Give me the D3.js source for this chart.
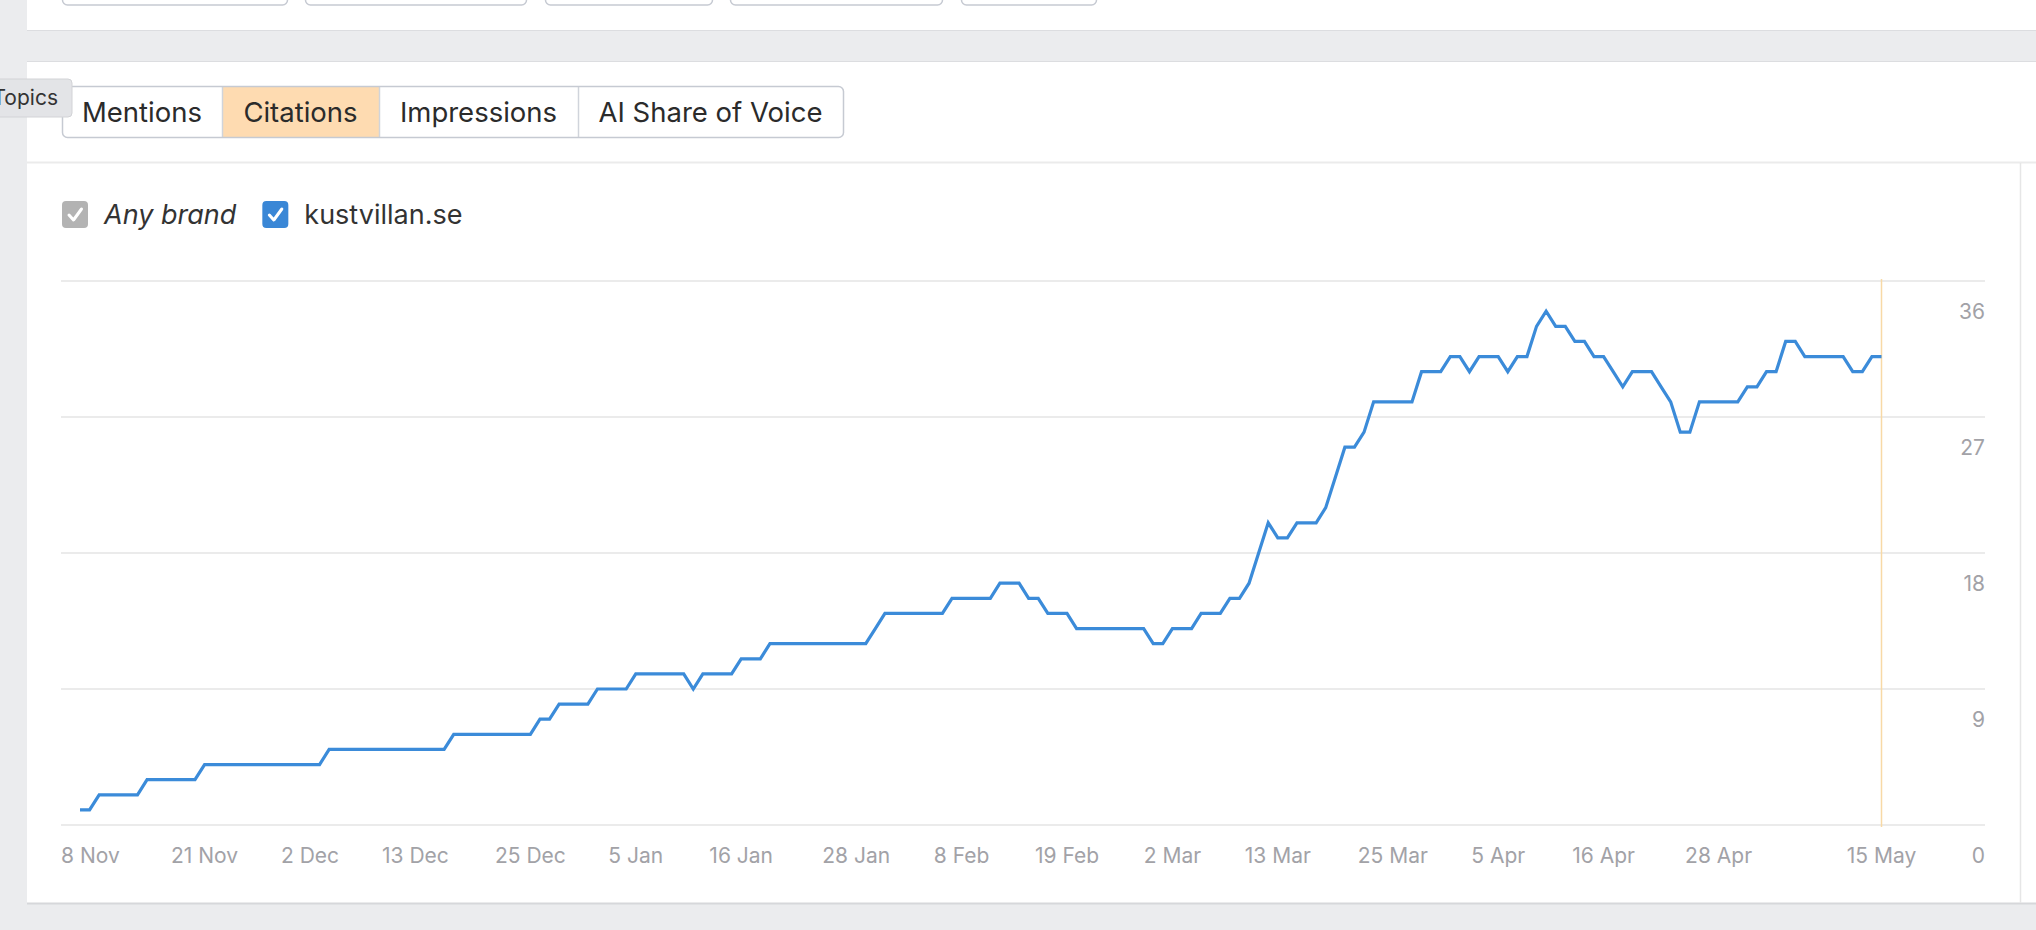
<!DOCTYPE html>
<html>
<head>
<meta charset="utf-8">
<script src="https://cdn.jsdelivr.net/npm/d3@7/dist/d3.min.js"></script>
<style>
  html, body { margin: 0; padding: 0; background: #ebecee; }
  svg { display: block; font-family: Inter, "Noto Sans", sans-serif; }
</style>
</head>
<body>
<div id="chart"></div>
<script>
// daily citations for kustvillan.se, one value per day from start_date
var start_date = '2024-11-08'
var citations = [
  1, 1, 2, 2, 2, 2, 2, 3, 3, 3,
  3, 3, 3, 4, 4, 4, 4, 4, 4, 4,
  4, 4, 4, 4, 4, 4, 5, 5, 5, 5,
  5, 5, 5, 5, 5, 5, 5, 5, 5, 6,
  6, 6, 6, 6, 6, 6, 6, 6, 7, 7,
  8, 8, 8, 8, 9, 9, 9, 9, 10, 10,
  10, 10, 10, 10, 9, 10, 10, 10, 10, 11,
  11, 11, 12, 12, 12, 12, 12, 12, 12, 12,
  12, 12, 12, 13, 14, 14, 14, 14, 14, 14,
  14, 15, 15, 15, 15, 15, 16, 16, 16, 15,
  15, 14, 14, 14, 13, 13, 13, 13, 13, 13,
  13, 13, 12, 12, 13, 13, 13, 14, 14, 14,
  15, 15, 16, 18, 20, 19, 19, 20, 20, 20,
  21, 23, 25, 25, 26, 28, 28, 28, 28, 28,
  30, 30, 30, 31, 31, 30, 31, 31, 31, 30,
  31, 31, 33, 34, 33, 33, 32, 32, 31, 31,
  30, 29, 30, 30, 30, 29, 28, 26, 26, 28,
  28, 28, 28, 28, 29, 29, 30, 30, 32, 32,
  31, 31, 31, 31, 31, 30, 30, 31, 31
]

var x_ticks = ['2024-11-08', '2024-11-21', '2024-12-02', '2024-12-13', '2024-12-25',
  '2025-01-05', '2025-01-16', '2025-01-28', '2025-02-08', '2025-02-19', '2025-03-02',
  '2025-03-13', '2025-03-25', '2025-04-05', '2025-04-16', '2025-04-28', '2025-05-15']
var y_ticks = [0, 9, 18, 27, 36]

var tabs = ['Mentions', 'Citations', 'Impressions', 'AI Share of Voice']
var tab_widths = [160, 157, 199, 265]
var active_tab = 'Citations'

var legend = [
  { name: 'Any brand', color: '#b3b3b3', italic: true },
  { name: 'kustvillan.se', color: '#3a87d6', italic: false }
]

var w = 2036
var h = 930

var parse = d3.utcParse('%Y-%m-%d')
var fmt = d3.utcFormat('%-d %b')
var t0 = parse(start_date)
var data = citations.map(function (v, i) {
  return { date: d3.utcDay.offset(t0, i), value: v }
})

var svg = d3.select('#chart').append('svg')
  .attr('width', w)
  .attr('height', h)
  .attr('viewBox', [0, 0, w, h].join(' '))

// page panels
svg.append('rect').attr('x', 27).attr('y', 0).attr('width', w - 27).attr('height', 30)
  .attr('fill', '#fff')
svg.append('line').attr('x1', 27).attr('x2', w).attr('y1', 30.5).attr('y2', 30.5)
  .attr('stroke', '#dcdde0')
svg.append('rect').attr('x', 27).attr('y', 61).attr('width', w - 27).attr('height', 842)
  .attr('fill', '#fff')
svg.append('line').attr('x1', 27).attr('x2', w).attr('y1', 61.5).attr('y2', 61.5)
  .attr('stroke', '#dcdde0')
svg.append('line').attr('x1', 27).attr('x2', w).attr('y1', 903.5).attr('y2', 903.5)
  .attr('stroke', '#d6d7da').attr('stroke-width', 2)
svg.append('line').attr('x1', 27).attr('x2', w).attr('y1', 162.5).attr('y2', 162.5)
  .attr('stroke', '#ebebeb').attr('stroke-width', 2)
svg.append('line').attr('x1', 2020.5).attr('x2', 2020.5).attr('y1', 163).attr('y2', 903)
  .attr('stroke', '#e6e6e6').attr('stroke-width', 1.5)

// bottoms of the buttons in the top panel
var top_buttons = [[62, 287], [305, 526], [545, 712], [730, 942], [961, 1096]]
top_buttons.forEach(function (b) {
  svg.append('rect').attr('x', b[0] + 0.5).attr('y', -20).attr('width', b[1] - b[0]).attr('height', 25)
    .attr('rx', 5).attr('fill', '#fff').attr('stroke', '#c6cad2').attr('stroke-width', 1.5)
})

// tab group
var tab_x = 62
var tab_g = svg.append('g')
tabs.forEach(function (t, i) {
  var tw = tab_widths[i]
  if (t === active_tab) {
    tab_g.append('rect').attr('x', tab_x).attr('y', 87).attr('width', tw).attr('height', 50)
      .attr('fill', '#fedbb1')
  }
  if (i > 0) {
    tab_g.append('line').attr('x1', tab_x + 0.5).attr('x2', tab_x + 0.5).attr('y1', 87).attr('y2', 137)
      .attr('stroke', '#d0d4db').attr('stroke-width', 1.5)
  }
  tab_g.append('text').text(t)
    .attr('x', tab_x + tw / 2)
    .attr('y', 121.5)
    .attr('text-anchor', 'middle')
    .attr('fill', '#2b2b2b')
    .style('font-size', '27.5px')
  tab_x += tw
})
tab_g.append('rect').attr('x', 62.5).attr('y', 86.5).attr('width', tab_x - 62).attr('height', 51)
  .attr('rx', 5).attr('fill', 'none').attr('stroke', '#c6cad2').attr('stroke-width', 1.5)

// "Topics" tooltip cut off at the left edge
var tip = svg.append('g')
tip.append('rect').attr('x', -10).attr('y', 79).attr('width', 82).attr('height', 38)
  .attr('rx', 4).attr('fill', '#e3e4e7').attr('stroke', '#d2d3d6')
tip.append('text').text('Topics').attr('x', 58).attr('y', 105)
  .attr('text-anchor', 'end').attr('fill', '#333').style('font-size', '21px')

// legend
var lx = 62
legend.forEach(function (d) {
  svg.append('rect').attr('x', lx).attr('y', 201).attr('width', 26).attr('height', 27)
    .attr('rx', 4).attr('fill', d.color)
  svg.append('path')
    .attr('d', 'M' + (lx + 7) + ',' + 215 + 'l4.5,5l8,-11')
    .attr('fill', 'none').attr('stroke', '#fff').attr('stroke-width', 3)
    .attr('stroke-linecap', 'round').attr('stroke-linejoin', 'round')
  var txt = svg.append('text').text(d.name)
    .attr('x', lx + 42)
    .attr('y', 224)
    .attr('fill', '#333')
    .style('font-size', '27px')
    .style('font-style', d.italic ? 'italic' : 'normal')
  lx = lx + 42 + txt.node().getComputedTextLength() + 26
})

// chart
var margins = { left: 61, right: 1985, top: 281, bottom: 825 }
var scale_x = d3.scaleUtc()
  .domain([t0, data[data.length - 1].date])
  .range([80, 1881.5])
var scale_y = d3.scaleLinear().domain([0, 36]).range([margins.bottom, margins.top])

// grid lines and y labels
y_ticks.forEach(function (t) {
  svg.append('line')
    .attr('x1', margins.left).attr('x2', margins.right)
    .attr('y1', scale_y(t)).attr('y2', scale_y(t))
    .attr('stroke', '#ebebeb').attr('stroke-width', 2)
  svg.append('text').text(t)
    .attr('x', margins.right)
    .attr('y', scale_y(t) + 38)
    .attr('text-anchor', 'end')
    .attr('fill', '#a2a2a7')
    .style('font-size', '21px')
})

// x labels
x_ticks.forEach(function (s) {
  var d = parse(s)
  var txt = svg.append('text').text(fmt(d))
    .attr('y', 863)
    .attr('fill', '#a2a2a7')
    .style('font-size', '21px')
  var tl = txt.node().getComputedTextLength()
  var xx = Math.max(scale_x(d) - tl / 2, margins.left)
  txt.attr('x', xx)
})

// marker for the latest day
var last = data[data.length - 1]
svg.append('line')
  .attr('x1', scale_x(last.date)).attr('x2', scale_x(last.date))
  .attr('y1', 279).attr('y2', 827)
  .attr('stroke', '#f8d9a6').attr('stroke-width', 1.5)

var line = d3.line()
  .x(function (d) { return scale_x(d.date) })
  .y(function (d) { return scale_y(d.value) })

svg.append('path')
  .datum(data)
  .attr('d', line)
  .attr('fill', 'none')
  .attr('stroke', '#3b8bd9')
  .attr('stroke-width', 3.2)
  .attr('stroke-linejoin', 'miter')
</script>
</body>
</html>
